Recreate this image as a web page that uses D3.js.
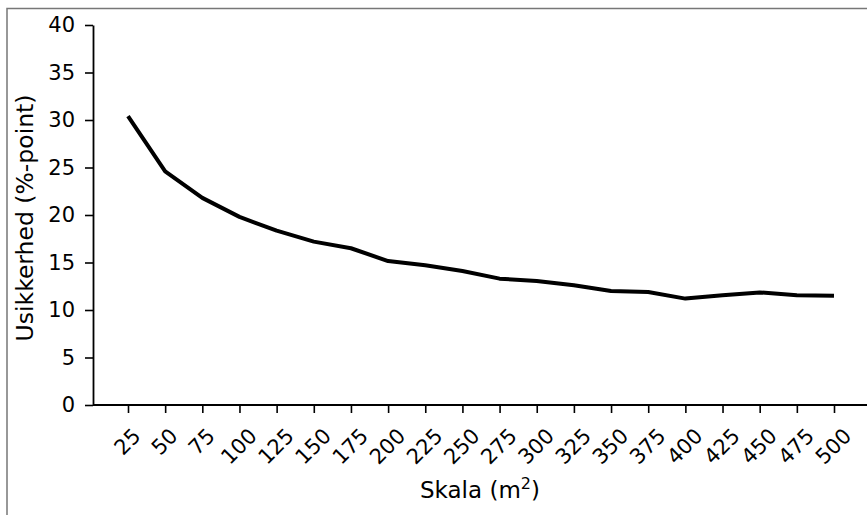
<!DOCTYPE html>
<html>
<head>
<meta charset="utf-8">
<script src="https://cdn.jsdelivr.net/npm/d3@7"></script>
<style>
  body { margin: 0; background: #fff; }
  svg { font-family: "DejaVu Sans", sans-serif; }
</style>
</head>
<body>
<div id="chart"></div>
<script>
// Uncertainty vs. scale (Skala)
const scales = [25, 50, 75, 100, 125, 150, 175, 200, 225, 250, 275, 300, 325, 350, 375, 400, 425, 450, 475, 500];
const uncertainty = [30.4, 24.6, 21.8, 19.8, 18.35, 17.2, 16.5, 15.15, 14.7, 14.1, 13.3, 13.05, 12.6, 12.0, 11.9, 11.2, 11.55, 11.85, 11.55, 11.5];
const yTicks = [0, 5, 10, 15, 20, 25, 30, 35, 40];

const W = 867, H = 515;
const plotLeft = 93, plotRight = 867, plotTop = 25, plotBottom = 405;

const svg = d3.select("#chart")
    .append("svg")
    .attr("width", W)
    .attr("height", H);

// figure frame (cropped at right and bottom)
svg.append("rect")
    .attr("x", 7)
    .attr("y", 8.5)
    .attr("width", W + 20)
    .attr("height", H + 20)
    .attr("fill", "none")
    .attr("stroke", "#777")
    .attr("stroke-width", 1.5);

// scales
const x = d3.scalePoint()
    .domain(scales)
    .range([128, 834]);

const y = d3.scaleLinear()
    .domain([0, 40])
    .range([plotBottom, plotTop]);

// Y axis
const yAxis = svg.append("g")
    .attr("transform", `translate(${plotLeft},0)`)
    .call(d3.axisLeft(y).tickValues(yTicks).tickSize(8).tickPadding(10).tickSizeOuter(0));
yAxis.select(".domain").attr("stroke", "#000").attr("stroke-width", 1.8);
yAxis.selectAll(".tick line").attr("stroke", "#000").attr("stroke-width", 1.6);
yAxis.selectAll(".tick text")
    .attr("font-family", "DejaVu Sans")
    .attr("font-size", 21)
    .attr("fill", "#000");

// X axis
const xAxis = svg.append("g")
    .attr("transform", `translate(0,${plotBottom})`)
    .call(d3.axisBottom(x).tickSize(8).tickSizeOuter(0));
xAxis.select(".domain").remove();
xAxis.append("line")
    .attr("x1", plotLeft)
    .attr("x2", plotRight)
    .attr("stroke", "#000")
    .attr("stroke-width", 1.8);
xAxis.selectAll(".tick line").attr("stroke", "#000").attr("stroke-width", 1.6);

// rotated tick labels, bbox centred under the tick (matplotlib style)
xAxis.selectAll(".tick text")
    .attr("font-family", "DejaVu Sans")
    .attr("font-size", 21)
    .attr("fill", "#000")
    .attr("text-anchor", "middle")
    .attr("dominant-baseline", "central")
    .attr("y", null)
    .attr("dy", null)
    .each(function () {
        const w = this.getComputedTextLength();
        const h = 15;
        const bh = (w + h) / Math.SQRT2;
        d3.select(this).attr("transform", `translate(-1,${22 + bh / 2}) rotate(-45)`);
    });

// the line
const line = d3.line()
    .x((d, i) => x(scales[i]))
    .y(d => y(d));

svg.append("path")
    .datum(uncertainty)
    .attr("fill", "none")
    .attr("stroke", "#000")
    .attr("stroke-width", 4)
    .attr("stroke-linejoin", "round")
    .attr("d", line);

// Y label
svg.append("text")
    .attr("transform", `translate(33,${(plotTop + plotBottom) / 2 + 3}) rotate(-90)`)
    .attr("text-anchor", "middle")
    .attr("font-size", 23.5)
    .attr("fill", "#000")
    .text("Usikkerhed (%-point)");

// X label with superscript
const xl = svg.append("text")
    .attr("x", (plotLeft + plotRight) / 2)
    .attr("y", 498)
    .attr("text-anchor", "middle")
    .attr("font-size", 23)
    .attr("fill", "#000");
xl.append("tspan").text("Skala (m");
xl.append("tspan").attr("font-size", 16).attr("dy", -9).text("2");
xl.append("tspan").attr("dy", 9).text(")");
</script>
</body>
</html>
